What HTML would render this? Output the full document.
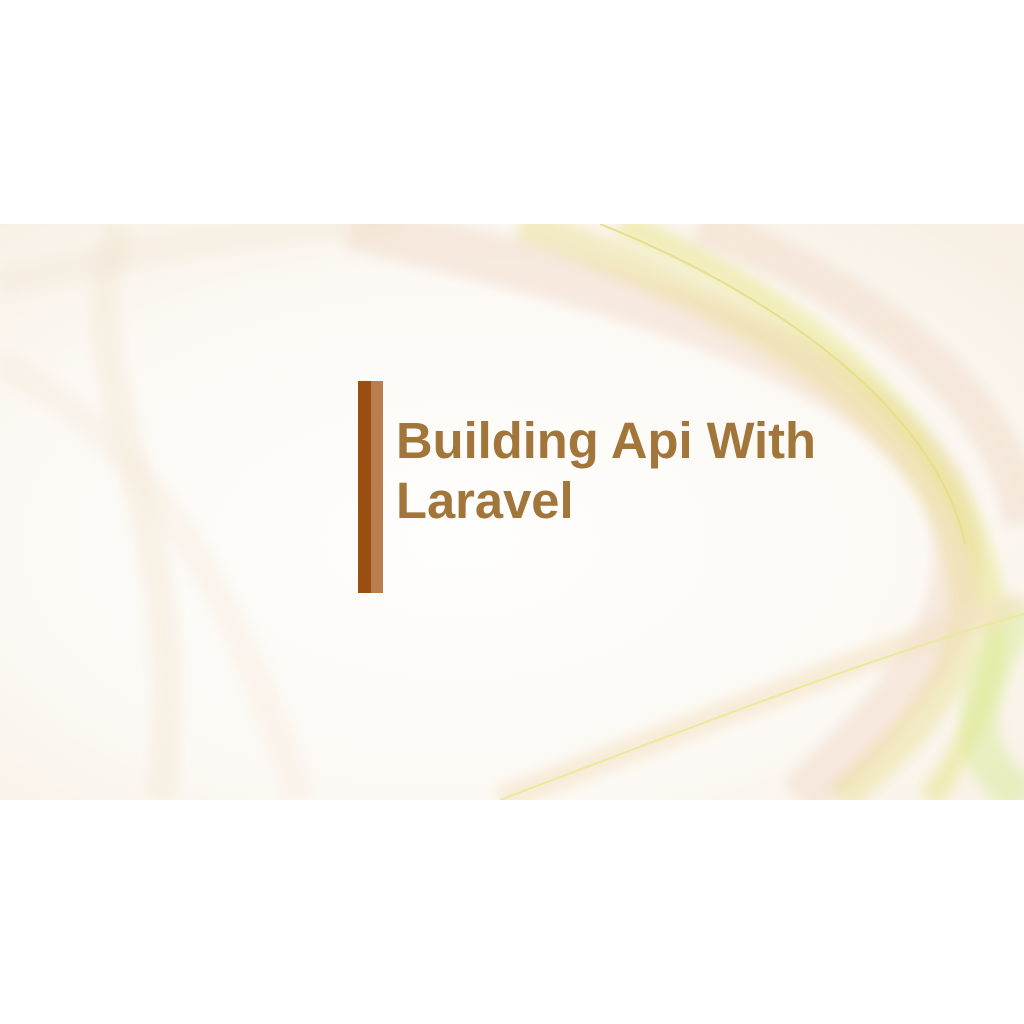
<!DOCTYPE html>
<html><head><style>
html,body{margin:0;padding:0;background:#fff;width:1024px;height:1024px;overflow:hidden;position:relative;font-family:"Liberation Sans",sans-serif}
.t{position:absolute;left:396px;font-weight:bold;font-size:50.7px;color:#a2763a;white-space:nowrap;line-height:60px}
</style></head><body>
<svg style="position:absolute;left:0;top:224px" width="1024" height="576" viewBox="0 0 1024 576">
<defs>
<radialGradient id="bg" cx="0.45" cy="0.55" r="0.75">
<stop offset="0" stop-color="#fefefd"/><stop offset="0.6" stop-color="#fcf9f4"/><stop offset="1" stop-color="#f7efe3"/>
</radialGradient>
<filter id="b"><feGaussianBlur stdDeviation="6"/></filter>
</defs>
<rect width="1024" height="576" fill="url(#bg)"/>
<g filter="url(#b)" fill="none">
<path d="M350 0 C600 60 850 120 940 260 C1000 380 900 480 800 576" stroke="#f2d9c9" stroke-width="50" opacity="0.5"/>
<path d="M520 0 C760 80 930 200 960 330 C990 450 900 520 840 576" stroke="#ecdf9a" stroke-width="34" opacity="0.5"/>
<path d="M620 0 C820 80 960 220 990 360 C1010 460 960 530 930 576" stroke="#e4e27a" stroke-width="24" opacity="0.45"/>
<path d="M700 0 C880 70 1010 180 1024 300" stroke="#f0d6c6" stroke-width="40" opacity="0.45"/>
<path d="M1024 380 C980 460 950 520 1024 576" stroke="#d9ec9a" stroke-width="40" opacity="0.5"/>
<path d="M500 576 C700 500 900 420 1024 380" stroke="#f3e2c4" stroke-width="26" opacity="0.6"/>
<path d="M120 0 C60 150 200 300 160 576" stroke="#f2e6d3" stroke-width="30" opacity="0.45"/>
<path d="M0 140 C120 200 220 320 300 576" stroke="#f6ecde" stroke-width="30" opacity="0.45"/>
<path d="M0 60 C200 10 330 0 400 0" stroke="#f3e5d8" stroke-width="30" opacity="0.4"/>
</g>
<path d="M500 576 C700 500 880 430 1024 390" stroke="#e9ea9a" stroke-width="2" fill="none"/>
<path d="M600 0 C800 80 940 200 965 320" stroke="#e6df8a" stroke-width="2" fill="none"/>
</svg>
<div style="position:absolute;left:358px;top:381px;width:13px;height:212px;background:#9a4e0f"></div>
<div style="position:absolute;left:371px;top:381px;width:12px;height:212px;background:#b87e4e"></div>
<div class="t" style="top:411px">Building Api With</div>
<div class="t" style="top:471px">Laravel</div>
</body></html>
